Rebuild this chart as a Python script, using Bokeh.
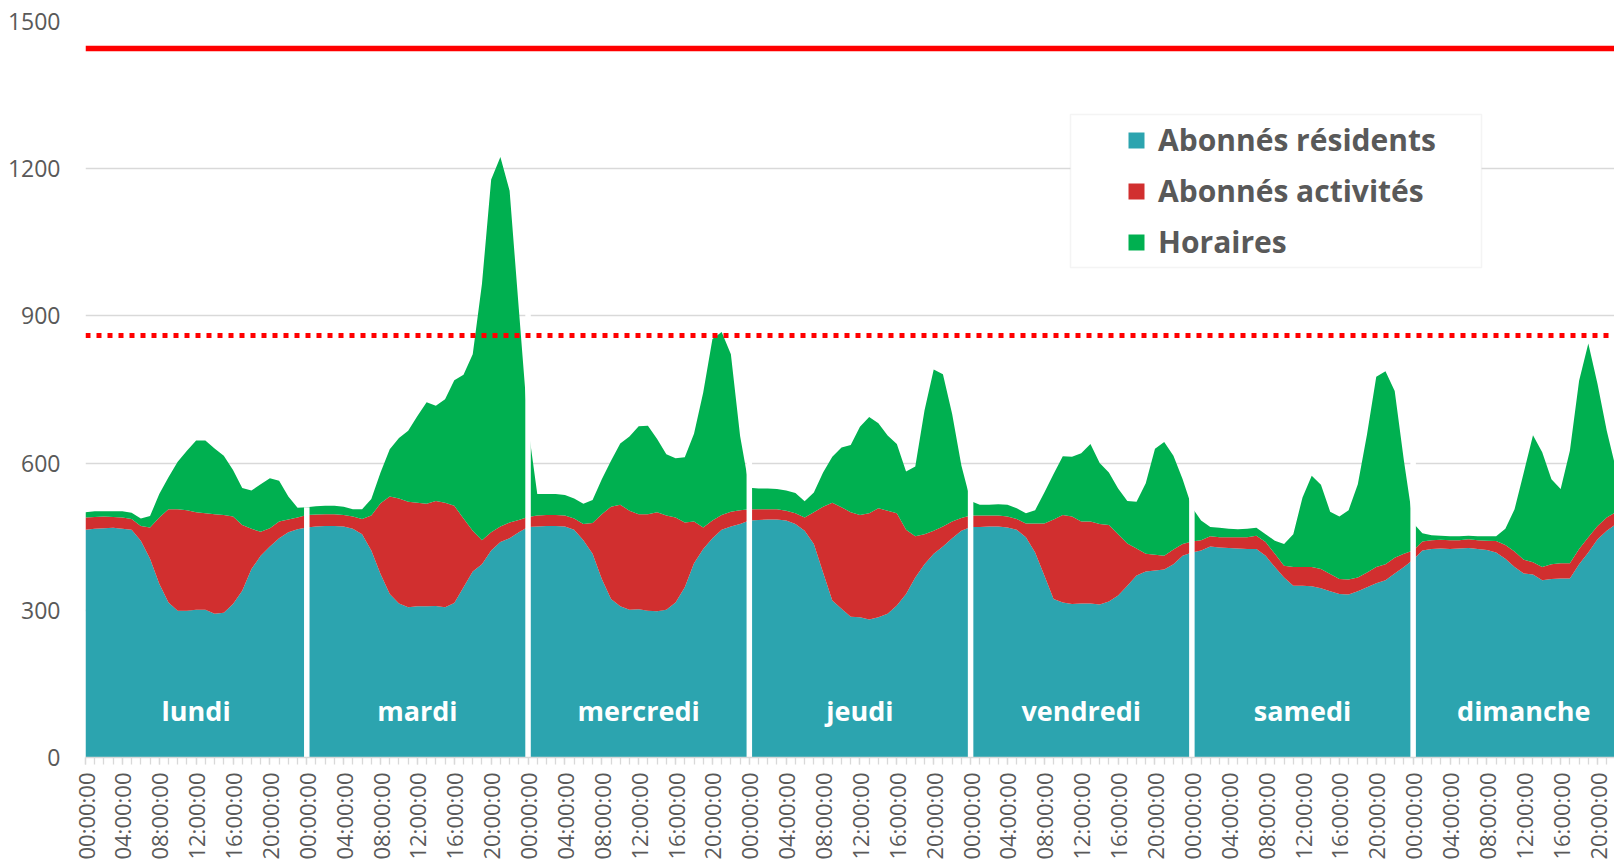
import math
import numpy as np
from bokeh.plotting import figure
from bokeh.models import (ColumnDataSource, Range1d, FixedTicker, Span, Legend,
                          LegendItem, BoxAnnotation)
from bokeh.core.properties import value
from bokeh.embed import file_html
from bokeh.resources import INLINE

# ---------------- data ----------------
JOURS = ["lundi", "mardi", "mercredi", "jeudi", "vendredi", "samedi", "dimanche"]
HEURES = ["00:00:00", "04:00:00", "08:00:00", "12:00:00", "16:00:00", "20:00:00"]
SERIES = ["Abonnés résidents", "Abonnés activités", "Horaires"]

abonnes_residents = [
    464, 466, 467, 468, 466, 464, 442, 405, 354, 316, 299, 299, 301, 301, 293, 295, 313, 340, 384, 411, 430, 447, 459, 465,
    469, 471, 472, 472, 471, 466, 455, 422, 374, 333, 314, 306, 308, 308, 309, 306, 315, 347, 379, 394, 422, 439, 447, 459,
    470, 471, 472, 472, 471, 464, 443, 415, 364, 323, 308, 301, 302, 299, 298, 301, 316, 347, 396, 425, 447, 464, 471, 476,
    483, 484, 485, 485, 483, 476, 462, 435, 377, 320, 303, 287, 286, 281, 286, 293, 310, 333, 367, 394, 415, 430, 447, 462,
    470, 470, 471, 471, 469, 464, 449, 418, 371, 323, 316, 313, 314, 314, 312, 318, 330, 350, 371, 379, 381, 383, 394, 411,
    418, 422, 430, 428, 427, 426, 425, 425, 411, 388, 367, 350, 350, 349, 345, 339, 333, 332, 339, 347, 355, 361, 375, 388,
    403, 422, 425, 426, 425, 426, 427, 425, 423, 418, 405, 388, 375, 373, 361, 364, 365, 365, 394, 418, 445, 462, 476, 490,
]
abonnes_activites = [
    25, 24, 24, 22, 23, 22, 30, 64, 135, 190, 207, 205, 199, 197, 203, 199, 178, 134, 82, 49, 37, 34, 26, 24,
    25, 24, 24, 24, 23, 25, 31, 71, 144, 199, 214, 215, 211, 209, 214, 213, 198, 140, 83, 49, 37, 32, 32, 25,
    20, 22, 22, 22, 22, 23, 33, 63, 132, 188, 207, 202, 194, 197, 202, 192, 173, 132, 85, 44, 36, 30, 30, 28,
    23, 22, 21, 21, 20, 22, 27, 65, 134, 199, 207, 213, 208, 217, 222, 210, 188, 131, 84, 61, 47, 41, 34, 26,
    23, 23, 22, 22, 22, 22, 28, 59, 106, 162, 178, 178, 167, 167, 164, 156, 125, 86, 55, 36, 32, 28, 30, 24,
    22, 21, 21, 21, 22, 23, 24, 27, 28, 27, 24, 38, 38, 39, 39, 35, 31, 31, 28, 30, 33, 33, 32, 27,
    19, 18, 18, 18, 18, 17, 18, 18, 19, 23, 28, 32, 28, 25, 27, 30, 31, 31, 31, 31, 27, 27, 24, 20,
]
horaires = [
    11, 12, 11, 12, 13, 13, 15, 23, 48, 65, 97, 121, 146, 148, 134, 121, 95, 75, 78, 97, 102, 83, 47, 20,
    16, 17, 17, 17, 17, 15, 20, 34, 63, 96, 123, 145, 177, 207, 194, 211, 256, 293, 360, 522, 719, 753, 676, 430,
    185, 44, 43, 43, 42, 41, 41, 47, 71, 94, 125, 151, 179, 180, 149, 125, 121, 133, 179, 275, 370, 373, 321, 151,
    44, 42, 42, 41, 41, 41, 33, 40, 70, 94, 122, 137, 180, 196, 173, 153, 141, 119, 142, 252, 329, 310, 219, 107,
    30, 22, 22, 23, 24, 22, 21, 27, 63, 93, 120, 122, 139, 158, 124, 107, 93, 87, 95, 144, 216, 232, 191, 132,
    70, 40, 19, 19, 17, 16, 17, 16, 16, 27, 44, 67, 142, 186, 172, 127, 127, 141, 190, 282, 388, 393, 340, 190,
    56, 17, 10, 8, 8, 8, 7, 8, 9, 10, 33, 86, 178, 259, 234, 173, 151, 229, 343, 395, 289, 177, 88, 30,
]
SEUIL_MAX = 1445      # solid red line
SEUIL_ALERTE = 860    # dotted red line
Y_TICKS = [0, 300, 600, 900, 1200, 1500]

# ---------------- style ----------------
FONT = "Open Sans"
GRAY = "#595959"
LIGHT = "#D9D9D9"
COLORS = ["#2CA4AF", "#D12F2F", "#00B050"]

n = len(abonnes_residents)
per_day = n // len(JOURS)
step = per_day // len(HEURES)
xs = list(range(n))

p = figure(width=1614, height=862, output_backend="svg", toolbar_location=None,
           x_range=Range1d(0, 165.84), y_range=Range1d(Y_TICKS[0], Y_TICKS[-1]),
           min_border_left=85, min_border_right=0, min_border_top=21, min_border_bottom=105,
           background_fill_color="white", border_fill_color="white")
p.outline_line_color = None

src = ColumnDataSource(dict(x=xs, res=abonnes_residents, act=abonnes_activites, hor=horaires))
areas = p.varea_stack(stackers=["res", "act", "hor"], x="x", color=COLORS, source=src)

# white separators between days
total = np.array(abonnes_residents) + np.array(abonnes_activites) + np.array(horaires)
bounds = [d * per_day for d in range(1, len(JOURS))]
tops = [int(max(total[b - 1], total[b])) for b in bounds]
p.segment(x0=bounds, y0=[0] * len(bounds), x1=bounds, y1=tops,
          line_color="white", line_width=5.5)

# day names
p.text(x=[d * per_day + per_day / 2 for d in range(len(JOURS))], y=[0] * len(JOURS), text=JOURS,
       text_color="white", text_font=value(FONT), text_font_style="bold",
       text_font_size="27px", text_align="center", text_baseline="alphabetic", y_offset=-47)

# thresholds
p.add_layout(Span(location=SEUIL_MAX, dimension="width", line_color="#FF0000", line_width=5.5))
p.add_layout(Span(location=SEUIL_ALERTE, dimension="width", line_color="#FF0000",
                  line_width=5, line_dash="5 6"))

# legend box + legend
box = BoxAnnotation(left=985, right=1396, top=643, bottom=490,
                    left_units="screen", right_units="screen", top_units="screen", bottom_units="screen",
                    fill_color="white", fill_alpha=1.0, line_color=LIGHT, line_width=1.5)
p.add_layout(box)
legend = Legend(items=[LegendItem(label=SERIES[k], renderers=[areas[k]]) for k in range(3)],
                location=(1041, 495), orientation="vertical", padding=0, margin=0, spacing=10,
                glyph_width=20, glyph_height=20, label_standoff=12, label_height=41,
                label_text_font=FONT, label_text_font_size="30px", label_text_font_style="bold",
                label_text_color=GRAY, border_line_color=None, background_fill_alpha=0)
p.add_layout(legend)

# axes
xa = p.xaxis[0]
xa.ticker = FixedTicker(ticks=list(range(0, n, step)), minor_ticks=xs)
xa.major_label_overrides = {t: HEURES[(t % per_day) // step] for t in range(0, n, step)}
xa.major_label_orientation = math.pi / 2
xa.major_label_text_font = FONT
xa.major_label_text_font_size = "22px"
xa.major_label_text_color = GRAY
xa.major_label_standoff = 8
xa.axis_line_color = LIGHT
xa.axis_line_width = 1.5
xa.major_tick_line_color = LIGHT
xa.minor_tick_line_color = LIGHT
xa.major_tick_line_width = 1.3
xa.minor_tick_line_width = 1.3
xa.major_tick_in = 0
xa.minor_tick_in = 0
xa.major_tick_out = 7
xa.minor_tick_out = 7

ya = p.yaxis[0]
ya.ticker = FixedTicker(ticks=Y_TICKS)
ya.major_label_text_font = FONT
ya.major_label_text_font_size = "23px"
ya.major_label_text_color = GRAY
ya.major_label_standoff = 25
ya.axis_line_color = None
ya.major_tick_line_color = None
ya.minor_tick_line_color = None
ya.major_tick_out = 0
ya.minor_tick_out = 0

p.xgrid.visible = False
p.ygrid.ticker = FixedTicker(ticks=Y_TICKS)
p.ygrid.grid_line_color = LIGHT
p.ygrid.grid_line_width = 1.4

open("out.html", "w").write(file_html(p, INLINE))
